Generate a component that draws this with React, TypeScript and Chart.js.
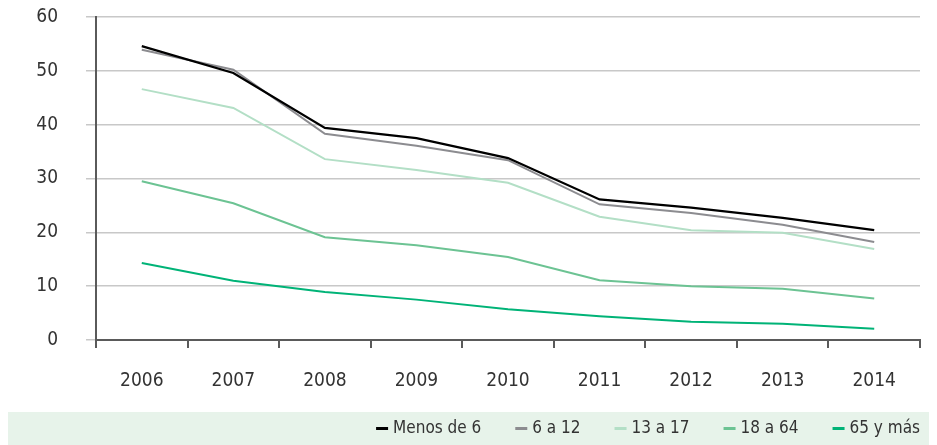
import { useEffect, useRef } from "react";
import { Chart, registerables } from "chart.js";

Chart.register(...registerables);

const years = ["2006", "2007", "2008", "2009", "2010", "2011", "2012", "2013", "2014"];
const menosDe6 = [54.6, 49.6, 39.4, 37.5, 33.8, 26.1, 24.6, 22.7, 20.4];
const de6a12 = [53.9, 50.2, 38.3, 36.1, 33.4, 25.2, 23.6, 21.4, 18.2];
const de13a17 = [46.6, 43.1, 33.6, 31.6, 29.2, 22.9, 20.4, 19.9, 16.9];
const de18a64 = [29.5, 25.4, 19.1, 17.6, 15.4, 11.1, 10.0, 9.5, 7.7];
const mas65 = [14.3, 11.0, 8.9, 7.5, 5.7, 4.4, 3.4, 3.0, 2.1];

const seriesNames = ["Menos de 6", "6 a 12", "13 a 17", "18 a 64", "65 y más"];
const seriesColors = ["#000000", "#8c8c90", "#b3dfc6", "#6cc393", "#00b377"];
const yTicks = [0, 10, 20, 30, 40, 50, 60];

const FONT = "'Liberation Sans Narrow', 'DejaVu Sans Condensed', 'Roboto', sans-serif";
const BAND_H = 33;

const bandLegend = {
  id: "bandLegend",
  afterDraw(chart: any) {
    const { ctx, width, height } = chart;
    ctx.save();
    ctx.fillStyle = "#e7f3ea";
    ctx.fillRect(0, height - BAND_H, width, BAND_H);
    ctx.font = "17px " + FONT;
    ctx.textBaseline = "middle";
    ctx.textAlign = "left";
    const markerW = 12;
    const markerGap = 5;
    const itemGap = 34;
    const cy = height - BAND_H / 2;
    const items = chart.data.datasets.map((ds: any) => ({
      text: ds.label,
      color: ds.borderColor,
      w: markerW + markerGap + ctx.measureText(ds.label).width,
    }));
    const total = items.reduce((s: number, it: any) => s + it.w, 0) + itemGap * (items.length - 1);
    let x = chart.chartArea.right - total;
    items.forEach((it: any) => {
      ctx.fillStyle = it.color;
      ctx.fillRect(x, cy - 1.5, markerW, 3);
      ctx.fillStyle = "#333333";
      ctx.fillText(it.text, x + markerW + markerGap, cy);
      x += it.w + itemGap;
    });
    ctx.restore();
  },
};

export default function App() {
  const ref = useRef<HTMLCanvasElement | null>(null);

  useEffect(() => {
    if (!ref.current) return;
    const dataArrays = [menosDe6, de6a12, de13a17, de18a64, mas65];
    const chart = new Chart(ref.current, {
      type: "line",
      data: {
        labels: years,
        datasets: dataArrays.map((d, i) => ({
          label: seriesNames[i],
          data: d,
          borderColor: seriesColors[i],
          backgroundColor: seriesColors[i],
          borderWidth: i === 0 ? 2.3 : 2,
          pointRadius: 0,
          tension: 0,
          fill: false,
        })),
      },
      options: {
        animation: false,
        responsive: true,
        maintainAspectRatio: false,
        layout: { padding: { top: 9, right: 9, left: 0, bottom: BAND_H } },
        plugins: {
          legend: { display: false },
          tooltip: { enabled: false },
        },
        scales: {
          x: {
            offset: true,
            afterFit: (scale: any) => {
              scale.height = 72;
            },
            grid: {
              drawOnChartArea: false,
              drawTicks: true,
              tickLength: 8,
              color: "#5a5a5a",
              lineWidth: 2,
              offset: true,
            },
            border: { color: "#5a5a5a", width: 2 },
            ticks: {
              color: "#333333",
              font: { family: FONT, size: 19 },
              padding: 22,
              maxRotation: 0,
            },
          },
          y: {
            min: 0,
            max: 60,
            afterFit: (scale: any) => {
              scale.width = 88;
              scale.paddingTop = 0;
              scale.paddingBottom = 0;
            },
            afterBuildTicks: (scale: any) => {
              scale.ticks = yTicks.map((v) => ({ value: v }));
            },
            grid: {
              color: "#c8c8c8",
              lineWidth: 1.5,
              tickLength: 10,
            },
            border: { color: "#5a5a5a", width: 2 },
            ticks: {
              color: "#333333",
              font: { family: FONT, size: 19 },
              padding: 28,
            },
          },
        },
      },
      plugins: [bandLegend],
    });
    return () => chart.destroy();
  }, []);

  return (
    <div style={{ width: "100%", height: 437, position: "relative" }}>
      <canvas ref={ref} />
    </div>
  );
}
